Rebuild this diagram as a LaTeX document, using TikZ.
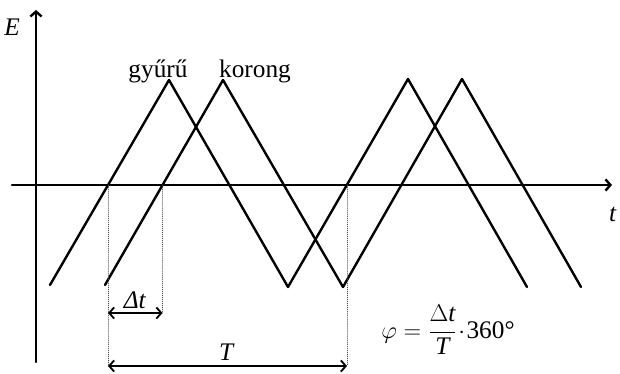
\documentclass[tikz,border=0pt]{standalone}
\usepackage{fontspec}
\setmainfont{Liberation Serif}
\usetikzlibrary{arrows.meta}
\begin{document}
\begin{tikzpicture}[x=0.025cm,y=0.025cm,line join=round,line cap=round,>={Straight Barb[length=3.5pt,width=8pt]}]
	\tikzset{every node/.style={font=\fontsize{18}{20}\selectfont},
		wave/.style={line width=1.7pt},
		guide/.style={densely dotted,thin,black!70}}
	\useasboundingbox (-36,-189) rectangle (584,185);
	% axes
	\coordinate (xs) at (-24,0);
	\coordinate (xe) at (576,0);
	\coordinate (ys) at (0,-177);
	\coordinate (ye) at (0,175);
	\draw[->,line width=1.7pt] (xs)--(xe);
	\draw[->,line width=1.7pt] (ys)--(ye);
	\node (E) at (-24,158) {\textit{E}};
	\node (t) at (577,-29) {\textit{t}};
	% gyuru and korong
	\draw[wave] (14,-100)--(133,105)--(252,-102)--(372,106)--(491,-102);
	\draw[wave] (69,-100)--(187,105)--(307,-102)--(426,106)--(545,-102);
	\node[anchor=base] (gyuru) at (122,107) {gyűrű};
	\node[anchor=base] (korong) at (219,107) {korong};
	% crossings and measures
	\coordinate (c1) at (72,0);
	\coordinate (c2) at (126.5,0);
	\coordinate (c3) at (311,0);
	\coordinate (d1) at (72,-128);
	\coordinate (d2) at (126.5,-128);
	\coordinate (T1) at (72,-181);
	\coordinate (T2) at (311,-181);
	\draw[guide] (c1)--(T1) (c2)--(d2) (c3)--(T2);
	\draw[<->,line width=1.3pt] (d1)--(d2);
	\draw[<->,line width=1.3pt] (T1)--(T2);
	\node (dt) at (99,-115) {\textit{Δt}};
	\node (T) at (191,-167) {\textit{T}};
	\node (phi) at (412,-145) {$\varphi=\displaystyle\frac{\Delta\textit{t}}{\textit{T}}\!\cdot\!{}$360°};
\end{tikzpicture}
\end{document}
